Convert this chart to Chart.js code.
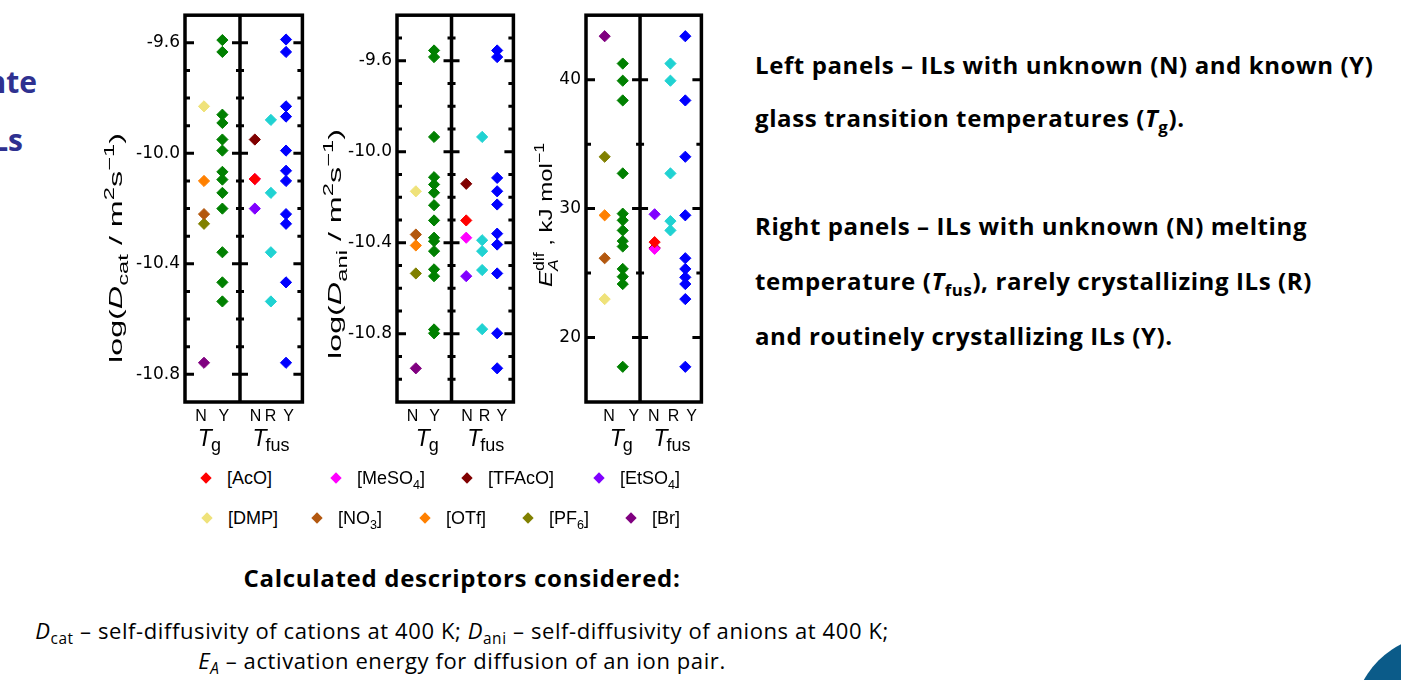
<!DOCTYPE html>
<html>
<head>
<meta charset="utf-8">
<script src="https://cdn.jsdelivr.net/npm/chart.js@4.4.0/dist/chart.umd.min.js"></script>
<style>
  html, body { margin: 0; padding: 0; background: #fff; }
  body { width: 1401px; height: 680px; overflow: hidden; position: relative; font-family: "Liberation Sans", Arial, sans-serif; color: #000; }
  canvas.panel { position: absolute; top: 0; }
  .leg { position: absolute; font-size: 18px; line-height: 20px; white-space: nowrap; }
  .mk { position: absolute; width: 8px; height: 8px; transform: rotate(45deg); }
  sub { font-size: 70%; vertical-align: sub; line-height: 0; }
  .note { position: absolute; left: 755px; font-family: "Open Sans", sans-serif; font-weight: 700; font-size: 24px; letter-spacing: 0.6px; line-height: 30px; white-space: nowrap; }
  .foot { position: absolute; left: 0; width: 924px; text-align: center; font-family: "Open Sans", sans-serif; font-size: 22px; letter-spacing: 0.6px; line-height: 26px; white-space: nowrap; }
  .side { position: absolute; font-family: "Open Sans", sans-serif; font-weight: 700; font-size: 30px; line-height: 36px; color: #2f3190; white-space: nowrap; text-align: right; }
  #corner { position: absolute; left: 1353px; top: 635px; width: 174px; height: 174px; border-radius: 50%; background: #0b5b89; }
</style>
</head>
<body>
<div class="side" style="right:1364px; top:64px;">nte</div>
<div class="side" style="right:1378px; top:122px;">ILs</div>

<canvas id="pDcat" class="panel"></canvas>
<canvas id="pDani" class="panel"></canvas>
<canvas id="pEa" class="panel"></canvas>

<div id="legend"></div>

<div class="note" style="top:50px;">Left panels – ILs with unknown (N) and known (Y)</div>
<div class="note" style="top:103px;">glass transition temperatures (<i>T</i><sub>g</sub>).</div>
<div class="note" style="top:211px;">Right panels – ILs with unknown (N) melting</div>
<div class="note" style="top:266px;">temperature (<i>T</i><sub>fus</sub>), rarely crystallizing ILs (R)</div>
<div class="note" style="top:321px;">and routinely crystallizing ILs (Y).</div>

<div class="foot" style="top:563px; font-weight:700; font-size:24px; letter-spacing:0.7px; line-height:30px;">Calculated descriptors considered:</div>
<div class="foot" style="top:617px;"><i>D</i><sub>cat</sub> – self-diffusivity of cations at 400 K; <i>D</i><sub>ani</sub> – self-diffusivity of anions at 400 K;</div>
<div class="foot" style="top:647px;"><i>E<sub>A</sub></i> – activation energy for diffusion of an ion pair.</div>

<div id="corner"></div>

<script>
// anions shown in the N columns
const anions = ['[AcO]', '[MeSO4]', '[TFAcO]', '[EtSO4]', '[DMP]', '[NO3]', '[OTf]', '[PF6]', '[Br]'];
const anionLabels = ['[AcO]', '[MeSO<sub>4</sub>]', '[TFAcO]', '[EtSO<sub>4</sub>]', '[DMP]', '[NO<sub>3</sub>]', '[OTf]', '[PF<sub>6</sub>]', '[Br]'];
const anionColors = ['#ff0000', '#ff00ff', '#800000', '#8000ff', '#efe27a', '#b3580f', '#ff8000', '#808000', '#800080'];
const tgYColor = '#008000';
const fusRColor = '#20d2d2';
const fusYColor = '#0000ff';

const xLabels = ['N', 'Y', 'N', 'R', 'Y'];

// log(D_cat)
const dcatTgN  = [null, null, null, null, -9.83, -10.22, -10.10, -10.255, -10.758];
const dcatFusN = [-10.093, -10.093, -9.95, -10.20, null, null, null, null, null];
const dcatTgY  = [-9.59, -9.633, -9.86, -9.89, -9.95, -9.99, -10.067, -10.095, -10.143, -10.20, -10.358, -10.467, -10.536];
const dcatFusR = [-9.879, -10.143, -10.358, -10.536];
const dcatFusY = [-9.588, -9.633, -9.83, -9.867, -9.99, -10.063, -10.10, -10.22, -10.255, -10.467, -10.758];
const dcatTicks = [-9.6, -10.0, -10.4, -10.8];

// log(D_ani)
const daniTgN  = [null, null, null, null, -10.174, -10.364, -10.412, -10.535, -10.952];
const daniFusN = [-10.302, -10.378, -10.141, -10.547, null, null, null, null, null];
const daniTgY  = [-9.555, -9.584, -9.935, -10.112, -10.144, -10.18, -10.235, -10.302, -10.378, -10.393, -10.437, -10.517, -10.547, -10.781, -10.798];
const daniFusR = [-9.935, -10.389, -10.437, -10.52, -10.78];
const daniFusY = [-9.555, -9.584, -10.115, -10.174, -10.232, -10.36, -10.408, -10.535, -10.798, -10.952];
const daniTicks = [-9.6, -10.0, -10.4, -10.8];

// E_A dif, kJ/mol
const eaTgN  = [null, null, null, null, 22.98, 26.15, 29.48, 34.02, 43.37];
const eaFusN = [27.4, 26.88, 26.95, 29.56, null, null, null, null, null];
const eaTgY  = [41.25, 39.92, 38.39, 32.73, 29.61, 29.09, 28.31, 27.48, 27.06, 25.32, 24.72, 24.15, 17.73];
const eaFusR = [41.25, 39.92, 32.73, 29.03, 28.31];
const eaFusY = [43.37, 38.39, 34.02, 29.48, 26.15, 25.32, 24.67, 24.15, 22.98, 17.73];
const eaTicks = [20, 30, 40];

// column centres on the 0..7.6 x scale: Tg N, Tg Y | Tfus N, R, Y
const colX = [1.23, 2.42, 4.52, 5.56, 6.54];
const dividerX = 3.56;
const FAM = '"Liberation Sans", Arial, sans-serif';

Chart.defaults.font.family = FAM;
Chart.defaults.color = '#000';

function font(size, it) {
  return (it ? 'italic ' : '') + size + 'px ' + FAM;
}

function partWidth(ctx, p, size) {
  let w = 0;
  const s = Math.round(size * 0.72);
  if (p.t != null) { ctx.font = font(size, p.it); w = ctx.measureText(p.t).width; }
  if (p.sub != null) { ctx.font = font(s, p.it); w = Math.max(w, ctx.measureText(p.sub).width); }
  if (p.sup != null) { ctx.font = font(s, false); w = Math.max(w, ctx.measureText(p.sup).width); }
  return w;
}

function richWidth(ctx, parts, size) {
  return parts.reduce((a, p) => a + partWidth(ctx, p, size), 0);
}

function drawRich(ctx, parts, size, x0) {
  let x = x0;
  const s = Math.round(size * 0.72);
  parts.forEach(p => {
    if (p.t != null) { ctx.font = font(size, p.it); ctx.fillText(p.t, x, 0); }
    if (p.sub != null) { ctx.font = font(s, p.it); ctx.fillText(p.sub, x, size * 0.32); }
    if (p.sup != null) { ctx.font = font(s, false); ctx.fillText(p.sup, x, -size * 0.42); }
    x += partWidth(ctx, p, size);
  });
}

function column(label, values, x, color) {
  return {
    label: label,
    data: values.map(v => ({ x: x, y: v })),
    backgroundColor: color,
    borderColor: color
  };
}

function buildSets(tgN, fusN, tgY, fusR, fusY) {
  const sets = [
    column('Tg Y', tgY, colX[1], tgYColor),
    column('Tfus R', fusR, colX[3], fusRColor),
    column('Tfus Y', fusY, colX[4], fusYColor)
  ];
  anions.forEach((name, i) => {
    const pts = [];
    if (tgN[i] != null) pts.push({ x: colX[0], y: tgN[i] });
    if (fusN[i] != null) pts.push({ x: colX[2], y: fusN[i] });
    sets.push({ label: name, data: pts, backgroundColor: anionColors[i], borderColor: anionColors[i] });
  });
  return sets;
}

function isMajor(list, v) {
  return list.some(l => Math.abs(l - v) < 1e-6);
}

function makePanel(cfg) {
  const canvas = document.getElementById(cfg.id);
  const left = cfg.boxLeft - 90;
  const width = cfg.boxRight - cfg.boxLeft + 96;
  canvas.width = width;
  canvas.height = 460;
  canvas.style.left = left + 'px';

  const frame = {
    id: 'frame' + cfg.id,
    afterDraw(chart) {
      const { ctx, chartArea: a, scales: { x, y } } = chart;
      const dx = x.getPixelForValue(dividerX);
      ctx.save();
      ctx.strokeStyle = '#000';
      ctx.fillStyle = '#000';
      ctx.lineWidth = 3.5;
      ctx.strokeRect(a.left, a.top, a.right - a.left, a.bottom - a.top);
      ctx.beginPath();
      ctx.moveTo(dx, a.top);
      ctx.lineTo(dx, a.bottom);
      ctx.stroke();

      ctx.lineWidth = 3;
      y.ticks.forEach(t => {
        const py = y.getPixelForValue(t.value);
        if (py <= a.top + 3 || py >= a.bottom - 3) return;
        const major = isMajor(cfg.labeled, t.value);
        const L = major ? 9 : 5;
        const D = major ? 8 : 4;
        ctx.beginPath();
        ctx.moveTo(a.left, py); ctx.lineTo(a.left + L, py);
        ctx.moveTo(a.right, py); ctx.lineTo(a.right - L, py);
        ctx.moveTo(dx - D, py); ctx.lineTo(dx + D, py);
        ctx.stroke();
      });

      // T_g and T_fus group labels
      ctx.textAlign = 'left';
      ctx.textBaseline = 'alphabetic';
      [[cfg.tgPos, 'g'], [cfg.fusPos, 'fus']].forEach(([pos, sub]) => {
        ctx.font = font(23, true);
        const wT = ctx.measureText('T').width;
        ctx.font = font(18, false);
        const wS = ctx.measureText(sub).width;
        const sx = x.getPixelForValue(pos) - (wT + wS) / 2;
        ctx.font = font(23, true);
        ctx.fillText('T', sx, 446);
        ctx.font = font(18, false);
        ctx.fillText(sub, sx + wT - 1, 451);
      });

      // rotated axis title
      ctx.save();
      ctx.translate(cfg.titleX - left, cfg.titleY);
      ctx.rotate(-Math.PI / 2);
      const w = richWidth(ctx, cfg.title, cfg.titleSize);
      ctx.scale(cfg.titleLen / w, 1);
      drawRich(ctx, cfg.title, cfg.titleSize, -w / 2);
      ctx.restore();

      ctx.restore();
    }
  };

  return new Chart(canvas.getContext('2d'), {
    type: 'scatter',
    data: { datasets: cfg.sets },
    options: {
      responsive: false,
      animation: false,
      devicePixelRatio: 1,
      events: [],
      layout: { padding: { top: 15, right: 6, left: 0, bottom: 0 } },
      elements: {
        point: { pointStyle: 'rectRot', radius: 5.6, borderWidth: 1 }
      },
      plugins: { legend: { display: false }, tooltip: { enabled: false } },
      scales: {
        x: {
          type: 'linear',
          min: 0,
          max: 7.6,
          grid: { display: false, drawTicks: false },
          border: { display: false },
          afterBuildTicks: s => { s.ticks = cfg.labelPos.map(v => ({ value: v })); },
          afterFit: s => { s.height = 58; },
          ticks: {
            autoSkip: false,
            maxRotation: 0,
            padding: 5,
            font: { size: 16 },
            callback: (v, i) => xLabels[i]
          }
        },
        y: {
          type: 'linear',
          min: cfg.yMin,
          max: cfg.yMax,
          grid: { display: false, drawTicks: false },
          border: { display: false },
          afterFit: s => { s.width = 90; },
          ticks: {
            stepSize: cfg.step,
            autoSkip: false,
            padding: 5,
            font: { family: '"DejaVu Sans", sans-serif', size: 17 },
            callback: v => isMajor(cfg.labeled, v) ? v.toFixed(cfg.dec) : ''
          }
        }
      }
    },
    plugins: [frame]
  });
}

makePanel({
  id: 'pDcat', boxLeft: 185, boxRight: 303,
  yMin: -10.9, yMax: -9.5, step: 0.1, labeled: dcatTicks, dec: 1,
  labelPos: [1.03, 2.51, 4.57, 5.54, 6.7], tgPos: 1.61, fusPos: 5.6,
  title: [{ t: 'log(' }, { t: 'D', it: true }, { sub: 'cat' }, { t: ' / m' }, { sup: '2' }, { t: 's' }, { sup: '\u22121' }, { t: ')' }],
  titleSize: 19, titleX: 122, titleY: 248, titleLen: 230,
  sets: buildSets(dcatTgN, dcatFusN, dcatTgY, dcatFusR, dcatFusY)
});

makePanel({
  id: 'pDani', boxLeft: 397, boxRight: 514,
  yMin: -11.1, yMax: -9.4, step: 0.1, labeled: daniTicks, dec: 1,
  labelPos: [1.01, 2.45, 4.58, 5.72, 6.85], tgPos: 2.01, fusPos: 5.83,
  title: [{ t: 'log(' }, { t: 'D', it: true }, { sub: 'ani' }, { t: ' / m' }, { sup: '2' }, { t: 's' }, { sup: '\u22121' }, { t: ')' }],
  titleSize: 19, titleX: 341, titleY: 244, titleLen: 230,
  sets: buildSets(daniTgN, daniFusN, daniTgY, daniFusR, daniFusY)
});

makePanel({
  id: 'pEa', boxLeft: 586, boxRight: 702,
  yMin: 15, yMax: 45, step: 5, labeled: eaTicks, dec: 0,
  labelPos: [1.51, 3.15, 4.46, 5.77, 6.95], tgPos: 2.36, fusPos: 5.7,
  title: [{ t: 'E', it: true }, { sub: 'A', sup: 'dif', it: true }, { t: ' , kJ mol' }, { sup: '\u22121' }],
  titleSize: 19, titleX: 552, titleY: 215, titleLen: 144,
  sets: buildSets(eaTgN, eaFusN, eaTgY, eaFusR, eaFusY)
});

// legend (two rows under the panels)
const legendRows = [[0, 1, 2, 3], [4, 5, 6, 7, 8]];
const legendMarkX = [[206, 336, 467, 599], [207, 317, 425, 528, 631]];
const legendRowY = [478, 518];
const legend = document.getElementById('legend');
legendRows.forEach((row, r) => {
  row.forEach((idx, k) => {
    const mk = document.createElement('div');
    mk.className = 'mk';
    mk.style.left = (legendMarkX[r][k] - 4) + 'px';
    mk.style.top = (legendRowY[r] - 4) + 'px';
    mk.style.background = anionColors[idx];
    legend.appendChild(mk);
    const tx = document.createElement('div');
    tx.className = 'leg';
    tx.style.left = (legendMarkX[r][k] + 21) + 'px';
    tx.style.top = (legendRowY[r] - 10) + 'px';
    tx.innerHTML = anionLabels[idx];
    legend.appendChild(tx);
  });
});
</script>
</body>
</html>
